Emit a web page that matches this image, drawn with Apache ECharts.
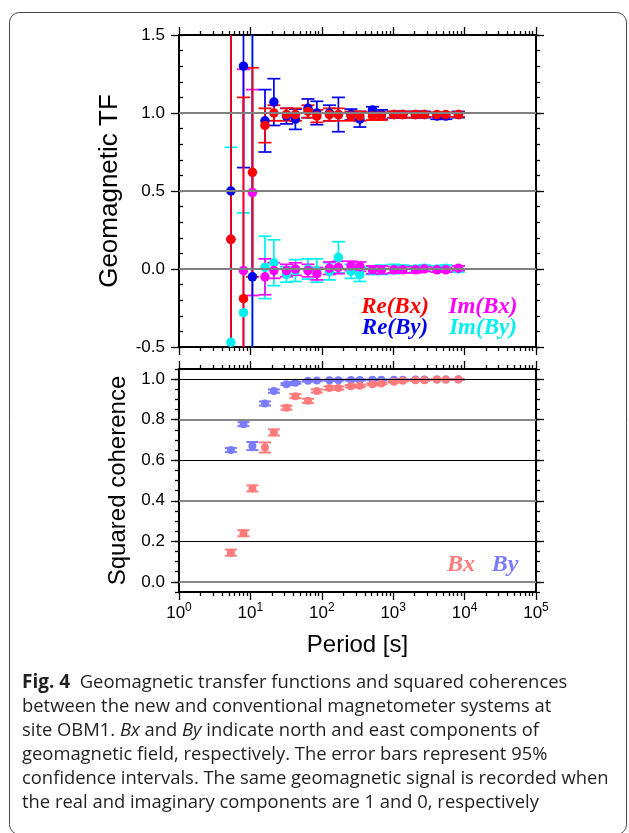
<!DOCTYPE html>
<html>
<head>
<meta charset="utf-8">
<script src="https://cdn.jsdelivr.net/npm/echarts@6.0.0/dist/echarts.min.js"></script>
<style>
html, body { margin: 0; padding: 0; background: #fff; }
#chart { width: 629px; height: 833px; }
</style>
</head>
<body>
<div id="chart"></div>
<script>
// periods [s] of the estimates
const periods = [5.33, 8, 10.67, 16, 21.33, 32, 42.67, 64, 85.33, 128, 170.7, 256, 341.3, 512, 682.7, 1024, 1365, 2048, 2731, 4096, 5461, 8192];

// geomagnetic transfer functions and 95% half widths
const reBx    = [0.19, -0.19, 0.62, 0.92, 1.00, 0.99, 0.99, 1.01, 0.98, 0.99, 0.99, 0.98, 0.98, 0.98, 0.98, 0.99, 0.99, 0.99, 0.99, 0.99, 0.99, 0.99];
const reBxErr = [3.0, 1.29, 0.67, 0.11, 0.05, 0.04, 0.04, 0.04, 0.04, 0.04, 0.04, 0.03, 0.03, 0.025, 0.025, 0.02, 0.02, 0.02, 0.015, 0.015, 0.015, 0.015];
const reBy    = [0.50, 1.30, -0.05, 0.95, 1.07, 0.98, 0.96, 1.03, 1.00, 1.00, 0.99, 0.99, 0.96, 1.02, 0.99, 0.99, 0.99, 0.99, 0.99, 0.98, 0.98, 0.99];
const reByErr = [3.0, 0.65, 3.0, 0.20, 0.15, 0.05, 0.065, 0.06, 0.075, 0.05, 0.11, 0.035, 0.05, 0.02, 0.03, 0.02, 0.02, 0.02, 0.02, 0.02, 0.02, 0.02];
const imBx    = [0.19, -0.01, 0.49, -0.05, -0.01, -0.01, 0.00, -0.01, -0.03, 0.005, 0.01, 0.02, 0.015, -0.005, -0.005, -0.005, -0.005, -0.005, 0.00, -0.005, -0.005, 0.005];
const imBxErr = [3.0, 1.29, 0.66, 0.115, 0.05, 0.04, 0.04, 0.04, 0.04, 0.04, 0.04, 0.03, 0.03, 0.025, 0.025, 0.02, 0.02, 0.02, 0.015, 0.015, 0.015, 0.015];
const imBy    = [-0.47, -0.28, -0.05, 0.01, 0.04, -0.035, -0.01, 0.00, -0.01, -0.015, 0.075, -0.015, -0.035, -0.01, -0.005, 0.00, 0.00, 0.00, 0.005, 0.00, 0.005, 0.00];
const imByErr = [1.25, 0.64, 3.0, 0.20, 0.147, 0.05, 0.07, 0.065, 0.075, 0.055, 0.10, 0.045, 0.045, 0.025, 0.03, 0.03, 0.025, 0.02, 0.02, 0.02, 0.02, 0.02];

// squared coherences
const cohBx    = [0.144, 0.240, 0.461, 0.663, 0.737, 0.859, 0.916, 0.893, 0.942, 0.956, 0.956, 0.965, 0.967, 0.975, 0.979, 0.987, 0.992, 0.995, 0.995, 0.998, 0.998, 0.999];
const cohBxErr = [0.015, 0.015, 0.015, 0.025, 0.015, 0.01, 0.01, 0.01, 0.008, 0.008, 0.008, 0.006, 0.006, 0.005, 0.005, 0.004, 0.003, 0.003, 0.003, 0.002, 0.002, 0.002];
const cohBy    = [0.650, 0.778, 0.670, 0.880, 0.941, 0.975, 0.982, 0.992, 0.993, 0.995, 0.995, 0.996, 0.996, 0.997, 0.997, 0.997, 0.997, 0.998, 0.998, 0.998, 0.998, 0.998];
const cohByErr = [0.01, 0.01, 0.02, 0.01, 0.008, 0.005, 0.005, 0.004, 0.003, 0.003, 0.003, 0.003, 0.003, 0.002, 0.002, 0.002, 0.002, 0.002, 0.002, 0.002, 0.002, 0.002];

// ticks
const decades = [1, 10, 100, 1000, 10000, 100000];
const tfTicks = [-0.5, 0, 0.5, 1.0, 1.5];
const cohTicks = [0, 0.2, 0.4, 0.6, 0.8, 1.0];
const tfGrid = [0, 0.5, 1.0];
const cohGrid = [1.0, 0.8, 0.6, 0.4, 0.2, 0.0];

const minorDecadeTicks = [];
decades.slice(0, 5).forEach(d => {
    for (let m = 2; m <= 9; m++) minorDecadeTicks.push(m * d);
});

const FONT = 'Liberation Sans';
const RED = '#ff0000', BLUE = '#0000ee', MAGENTA = '#ff00ff', CYAN = '#00f0f0';
const PINK = '#ff7b7b', LILAC = '#7b7bff';

function logAxis(gridIndex, position, ticks, len, main, labels) {
    return {
        type: 'log', logBase: 10, min: 1, max: 100000, gridIndex, position,
        axisLine: { show: main, onZero: false, lineStyle: { color: '#000', width: 2 } },
        axisTick: { show: true, customValues: ticks, length: len, lineStyle: { color: '#000', width: 1.3 } },
        axisLabel: {
            show: labels, customValues: decades, margin: 10, color: '#000',
            fontFamily: FONT, fontSize: 17, lineHeight: 22,
            formatter: v => '10{s|' + Math.round(Math.log10(v)) + '}',
            rich: { s: { fontSize: 12, lineHeight: 12, verticalAlign: 'top', fontFamily: FONT, color: '#000' } }
        },
        splitLine: { show: false }
    };
}

function valAxis(gridIndex, position, min, max, opts) {
    return Object.assign({
        type: 'value', gridIndex, position, min, max,
        axisLine: { show: false, onZero: false, lineStyle: { color: '#000', width: 2 } },
        axisTick: { show: true, length: 4, lineStyle: { color: '#000', width: 1.3 } },
        axisLabel: { show: false },
        splitLine: { show: false }
    }, opts);
}

function majorY(gridIndex, position, min, max, ticks, labels) {
    return valAxis(gridIndex, position, min, max, {
        axisLine: { show: true, onZero: false, lineStyle: { color: '#000', width: 2 } },
        axisTick: { show: true, customValues: ticks, length: 8, lineStyle: { color: '#000', width: 1.3 } },
        axisLabel: {
            show: labels, customValues: ticks, margin: 14, color: '#000',
            fontFamily: FONT, fontSize: 17, formatter: v => v.toFixed(1)
        }
    });
}

function errorBar(color, lw, cap) {
    return function (params, api) {
        const x = api.value(0);
        const p1 = api.coord([x, api.value(1)]);
        const p2 = api.coord([x, api.value(2)]);
        const style = { stroke: color, lineWidth: lw };
        return {
            type: 'group',
            children: [
                { type: 'line', shape: { x1: p1[0], y1: p1[1], x2: p2[0], y2: p2[1] }, style },
                { type: 'line', shape: { x1: p1[0] - cap, y1: p1[1], x2: p1[0] + cap, y2: p1[1] }, style },
                { type: 'line', shape: { x1: p2[0] - cap, y1: p2[1], x2: p2[0] + cap, y2: p2[1] }, style }
            ]
        };
    };
}

function errSeries(ai, vals, errs, color, lw, cap) {
    return {
        type: 'custom', xAxisIndex: ai * 4, yAxisIndex: ai * 4, clip: true, silent: true,
        renderItem: errorBar(color, lw, cap),
        encode: { x: 0, y: [1, 2] },
        data: periods.map((p, i) => [p, vals[i] - errs[i], vals[i] + errs[i]])
    };
}

function dotSeries(ai, vals, color, size) {
    return {
        type: 'scatter', xAxisIndex: ai * 4, yAxisIndex: ai * 4, clip: true, silent: true,
        symbol: 'circle', symbolSize: size,
        itemStyle: { color, opacity: 1 },
        data: periods.map((p, i) => [p, vals[i]])
    };
}

function gridLines(ai, values, styleFn) {
    return {
        type: 'scatter', xAxisIndex: ai * 4, yAxisIndex: ai * 4, data: [], z: 1,
        markLine: {
            silent: true, symbol: 'none', label: { show: false }, animation: false,
            data: values.map((v, i) => ({ yAxis: v, lineStyle: styleFn(v, i) }))
        }
    };
}

const chart = echarts.init(document.getElementById('chart'));

const option = {
    animation: false,
    backgroundColor: '#fff',
    grid: [
        { left: 179, width: 357, top: 35, height: 312 },
        { left: 179, width: 357, top: 369, height: 223 }
    ],
    xAxis: [
        logAxis(0, 'bottom', decades, 8, true, false),
        logAxis(0, 'bottom', minorDecadeTicks, 4, false, false),
        logAxis(0, 'top', decades, 8, true, false),
        logAxis(0, 'top', minorDecadeTicks, 4, false, false),
        Object.assign(logAxis(1, 'bottom', decades, 8, true, true), {
            name: 'Period [s]', nameLocation: 'middle', nameGap: 41,
            nameTextStyle: { fontFamily: FONT, fontSize: 24, color: '#000' }
        }),
        logAxis(1, 'bottom', minorDecadeTicks, 4, false, false),
        logAxis(1, 'top', decades, 8, true, false),
        logAxis(1, 'top', minorDecadeTicks, 4, false, false)
    ],
    yAxis: [
        Object.assign(majorY(0, 'left', -0.5, 1.5, tfTicks, true), {
            name: 'Geomagnetic TF', nameLocation: 'middle', nameGap: 56,
            nameTextStyle: { fontFamily: FONT, fontSize: 26, color: '#000' }
        }),
        valAxis(0, 'left', -0.5, 1.5, { interval: 0.1, axisTick: { show: true, inside: true, length: 4, lineStyle: { color: '#000', width: 1.3 } } }),
        majorY(0, 'right', -0.5, 1.5, tfTicks, false),
        valAxis(0, 'right', -0.5, 1.5, { interval: 0.1 }),
        Object.assign(majorY(1, 'left', -0.05, 1.05, cohTicks, true), {
            name: 'Squared coherence', nameLocation: 'middle', nameGap: 46,
            nameTextStyle: { fontFamily: FONT, fontSize: 24, color: '#000' }
        }),
        valAxis(1, 'left', -0.05, 1.05, { interval: 0.05 }),
        majorY(1, 'right', -0.05, 1.05, cohTicks, false),
        valAxis(1, 'right', -0.05, 1.05, { interval: 0.05 })
    ],
    series: [
        gridLines(0, tfGrid, () => ({ color: '#808080', width: 2, type: 'solid' })),
        gridLines(1, cohGrid, (v, i) => (i % 2 === 0
            ? { color: '#000', width: 1.2, type: 'solid' }
            : { color: '#888', width: 2, type: 'solid' })),

        errSeries(0, imBy, imByErr, CYAN, 1.7, 6.5),
        dotSeries(0, imBy, CYAN, 9.5),
        errSeries(0, imBx, imBxErr, MAGENTA, 1.7, 6.5),
        dotSeries(0, imBx, MAGENTA, 9.5),
        errSeries(0, reBy, reByErr, BLUE, 1.7, 6.5),
        dotSeries(0, reBy, BLUE, 9.5),
        errSeries(0, reBx, reBxErr, RED, 1.7, 6.5),
        dotSeries(0, reBx, RED, 9.5),

        errSeries(1, cohBy, cohByErr, LILAC, 2, 6),
        dotSeries(1, cohBy, LILAC, 8),
        errSeries(1, cohBx, cohBxErr, PINK, 2, 6),
        dotSeries(1, cohBx, PINK, 8)
    ],
    graphic: [
        {
            type: 'rect', silent: true, z: 0,
            shape: { x: 9.5, y: 12.5, width: 617, height: 822, r: 10 },
            style: { fill: 'none', stroke: '#444', lineWidth: 1 }
        },
        { type: 'text', x: 395, y: 307, style: { text: 'Re(Bx)', fill: RED, font: 'italic bold 23px "Liberation Serif"', textAlign: 'center', textVerticalAlign: 'middle' } },
        { type: 'text', x: 483, y: 307, style: { text: 'Im(Bx)', fill: MAGENTA, font: 'italic bold 23px "Liberation Serif"', textAlign: 'center', textVerticalAlign: 'middle' } },
        { type: 'text', x: 395, y: 328, style: { text: 'Re(By)', fill: BLUE, font: 'italic bold 23px "Liberation Serif"', textAlign: 'center', textVerticalAlign: 'middle' } },
        { type: 'text', x: 483, y: 328, style: { text: 'Im(By)', fill: CYAN, font: 'italic bold 23px "Liberation Serif"', textAlign: 'center', textVerticalAlign: 'middle' } },
        { type: 'text', x: 461, y: 565, style: { text: 'Bx', fill: PINK, font: 'italic bold 24px "Liberation Serif"', textAlign: 'center', textVerticalAlign: 'middle' } },
        { type: 'text', x: 505, y: 565, style: { text: 'By', fill: LILAC, font: 'italic bold 24px "Liberation Serif"', textAlign: 'center', textVerticalAlign: 'middle' } },
        {
            type: 'text', x: 22, y: 671,
            style: {
                text: '{b|Fig. 4}  Geomagnetic transfer functions and squared coherences\n' +
                    'between the new and conventional magnetometer systems at\n' +
                    'site OBM1. {i|Bx} and {i|By} indicate north and east components of\n' +
                    'geomagnetic field, respectively. The error bars represent 95%\n' +
                    'confidence intervals. The same geomagnetic signal is recorded when\n' +
                    'the real and imaginary components are 1 and 0, respectively',
                fontFamily: 'Open Sans', fontSize: 18.4, lineHeight: 24, fill: '#231f20',
                rich: {
                    b: { fontFamily: 'Open Sans', fontWeight: 'bold', fontSize: 19, lineHeight: 24, fill: '#231f20' },
                    i: { fontFamily: 'Open Sans', fontStyle: 'italic', fontSize: 18.4, lineHeight: 24, fill: '#231f20' }
                }
            }
        }
    ]
};

chart.setOption(option);
</script>
</body>
</html>
